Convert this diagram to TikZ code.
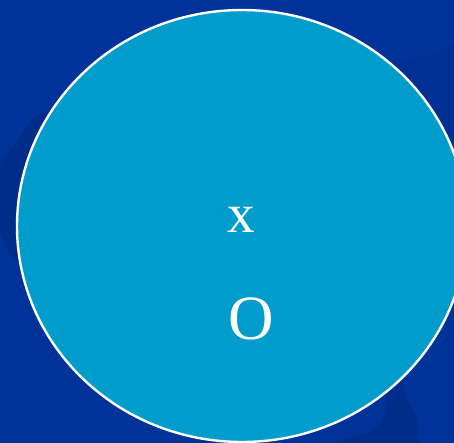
\documentclass[tikz,border=0pt]{standalone}
\usepackage{fontspec}
\setmainfont{Liberation Serif}
\definecolor{bgblue}{RGB}{0,51,153}
\definecolor{shadowblue}{RGB}{0,44,138}
\definecolor{shadowfaint}{RGB}{0,48,148}
\definecolor{discblue}{RGB}{0,156,204}
\tikzset{
  disc/.style={fill=discblue, draw=white, line width=2.4pt},
  lbl/.style={text=white, inner sep=0pt},
}
\begin{document}
\begin{tikzpicture}[x=1pt,y=-1pt]
\useasboundingbox (0,0) rectangle (454,443);
\fill[bgblue] (0,0) rectangle (454,443);
\begin{scope}
\clip (0,0) rectangle (454,443);
% faint shadow top right
\fill[shadowfaint] plot[smooth cycle, tension=0.7] coordinates {(370,80) (420,58) (480,50) (500,150) (430,200)};
% main shadow
\fill[shadowblue] plot[smooth cycle, tension=0.6] coordinates {(80,110) (10,150) (-6,200) (5,245) (22,264) (80,300) (250,370) (370,372) (386,393) (377,427) (333,445) (320,480) (420,480) (418,440) (417,418) (405,392) (390,330) (300,220)};
\end{scope}
\draw[disc] (242,226) ellipse [x radius=225, y radius=216];
\node[lbl, font=\fontsize{55}{62}\selectfont] (x) at (241,219.5) {x};
\node[lbl, font=\fontsize{63}{72}\selectfont] (o) at (251,318.5) {O};
\end{tikzpicture}
\end{document}
